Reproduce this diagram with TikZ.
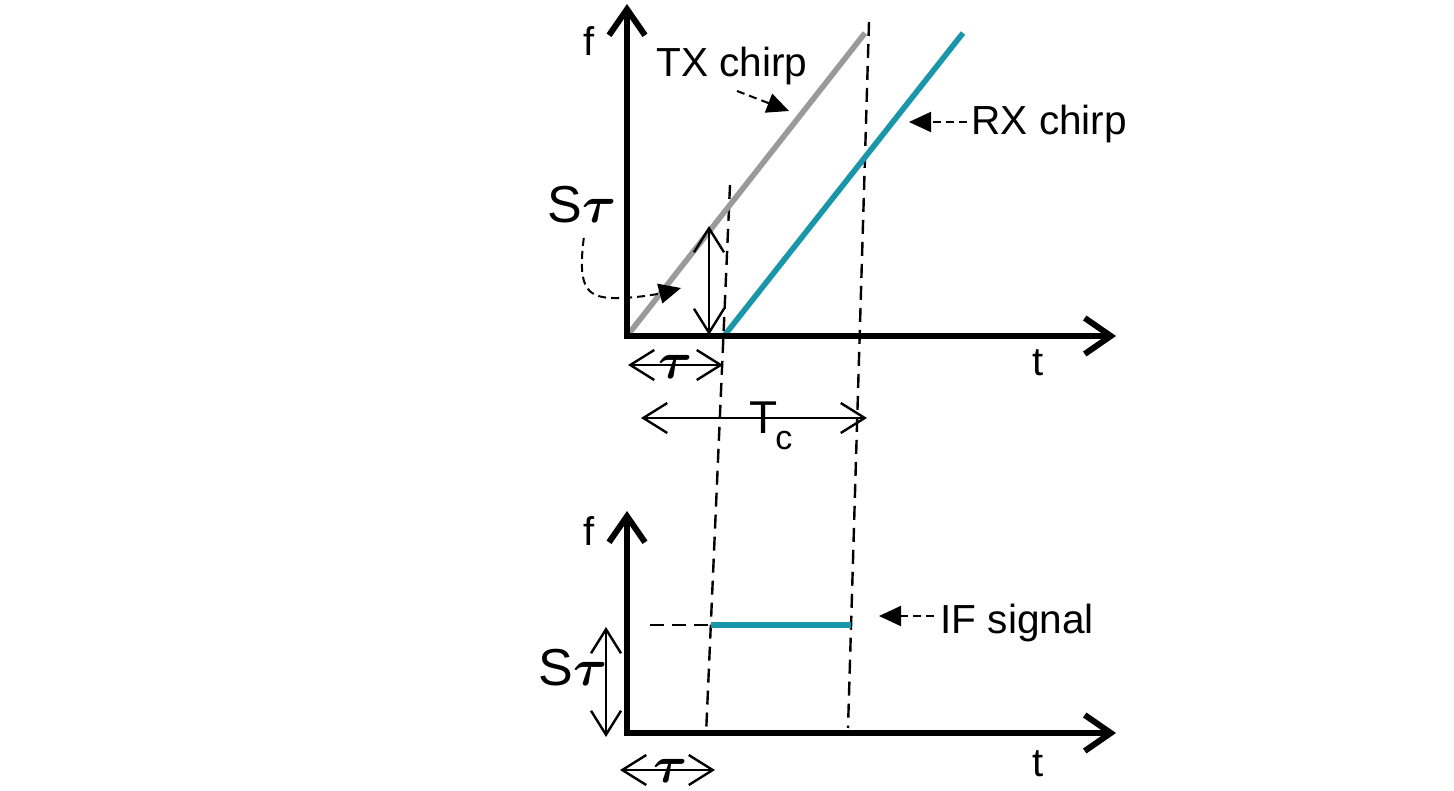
\RequirePackage{fix-cm}
\documentclass[tikz,border=0pt]{standalone}
\usepackage{fontspec}
\setmainfont{Liberation Sans}
\usetikzlibrary{arrows.meta}
\definecolor{rxteal}{HTML}{1A96AA}
\definecolor{txgray}{HTML}{9A9A9A}
\begin{document}
\begin{tikzpicture}[x=0.5pt,y=-0.5pt,
  axis/.style={line width=3pt, line join=miter,
    {Straight Barb[length=13pt,width=18pt]}-{Straight Barb[length=13pt,width=18pt]}},
  dim/.style={line width=1.2pt,
    {Straight Barb[length=12pt,width=15pt]}-{Straight Barb[length=12pt,width=15pt]}},
  guide/.style={line width=1.2pt, dash pattern=on 7pt off 4pt},
  pointer/.style={line width=1pt, dash pattern=on 4pt off 2.5pt, -{Triangle[length=11pt,width=10pt]}},
  chirp/.style={line width=2.8pt},
  lbl/.style={inner sep=0pt, font=\fontsize{20.3}{20.3}\selectfont},
  axlbl/.style={inner sep=0pt, font=\fontsize{20}{20}\selectfont},
  big/.style={inner sep=0pt, font=\fontsize{26}{26}\selectfont}]
\useasboundingbox (0,0) rectangle (1454,791);

% ---------- top plot ----------
\coordinate (O1) at (627,336);
\coordinate (Y1) at (627,4);
\coordinate (X1) at (1116,336);
\coordinate (TXe) at (865,33);
\coordinate (RXs) at (724,336);
\coordinate (RXe) at (963,33);
\coordinate (D1a) at (730,185);
\coordinate (D1b) at (706,735);
\coordinate (D2a) at (869,22);
\coordinate (D2b) at (848,728);

\draw[guide] (D1a) -- (D1b);
\draw[guide] (D2a) -- (D2b);
\draw[chirp, txgray] (O1) -- (TXe);
\draw[chirp, rxteal] (RXs) -- (RXe);
\draw[axis] (Y1) -- (O1) -- (X1);

\node[axlbl, anchor=base west] (f1) at (583,56) {f};
\node[axlbl, anchor=base west] (t1) at (1032,375) {t};

% S tau vertical dimension
\coordinate (ST1a) at (709,226);
\coordinate (ST1b) at (709,335);
\draw[dim] (ST1a) -- (ST1b);
\node[big, anchor=base west] (st1) at (547,222) {S{\boldmath$\tau$}};
\coordinate (st1tip) at (681,288);
\draw[pointer] ([xshift=1pt,yshift=-7.5pt]st1.south) .. controls (577,292) and (588,299) .. (622,298)
   .. controls (645,297) and (662,293) .. (st1tip);

% tau dimension
\coordinate (TA1a) at (628,365);
\coordinate (TA1b) at (723,365);
\draw[dim] (TA1a) -- (TA1b);
\node[big, anchor=base] (tau1) at (676,378) {{\boldmath$\tau$}};

% Tc dimension
\coordinate (TCa) at (641,418);
\coordinate (TCb) at (867,418);
\draw[dim] (TCa) -- (TCb);
\node[inner sep=0pt, anchor=base west, font=\fontsize{23}{23}\selectfont] (tcT) at (749,433) {T};
\node[inner sep=0pt, anchor=base west, font=\fontsize{17}{17}\selectfont] (tcc) at (775,449) {c};

% TX / RX labels
\node[lbl, anchor=base west] (txl) at (656,77) {TX chirp};
\coordinate (txtip) at (789,111);
\draw[pointer] (737,91) -- (txtip);
\node[lbl, anchor=base west] (rxl) at (971,135) {RX chirp};
\coordinate (rxtip) at (909,122);
\draw[pointer] ([xshift=-2pt]rxl.west |- rxtip) -- (rxtip);

% ---------- bottom plot ----------
\coordinate (O2) at (627,733);
\coordinate (Y2) at (627,511);
\coordinate (X2) at (1116,733);
\draw[axis] (Y2) -- (O2) -- (X2);
\node[axlbl, anchor=base west] (f2) at (583,545) {f};
\node[axlbl, anchor=base west] (t2) at (1032,776) {t};

\coordinate (IFa) at (711,625);
\coordinate (IFb) at (851,625);
\coordinate (IFd) at (650,625);
\draw[guide] (IFd) -- (IFa);
\draw[chirp, rxteal] (IFa) -- (IFb);

\node[lbl, anchor=base west] (ifl) at (940,633) {IF signal};
\coordinate (iftip) at (879,616);
\draw[pointer] ([xshift=-3pt]ifl.west |- iftip) -- (iftip);

\coordinate (ST2a) at (606,627);
\coordinate (ST2b) at (606,737);
\draw[dim] (ST2a) -- (ST2b);
\node[big, anchor=base west] (st2) at (538,685) {S{\boldmath$\tau$}};

\coordinate (TA2a) at (620,770);
\coordinate (TA2b) at (715,770);
\draw[dim] (TA2a) -- (TA2b);
\node[big, anchor=base] (tau2) at (671,782) {{\boldmath$\tau$}};
\end{tikzpicture}
\end{document}
